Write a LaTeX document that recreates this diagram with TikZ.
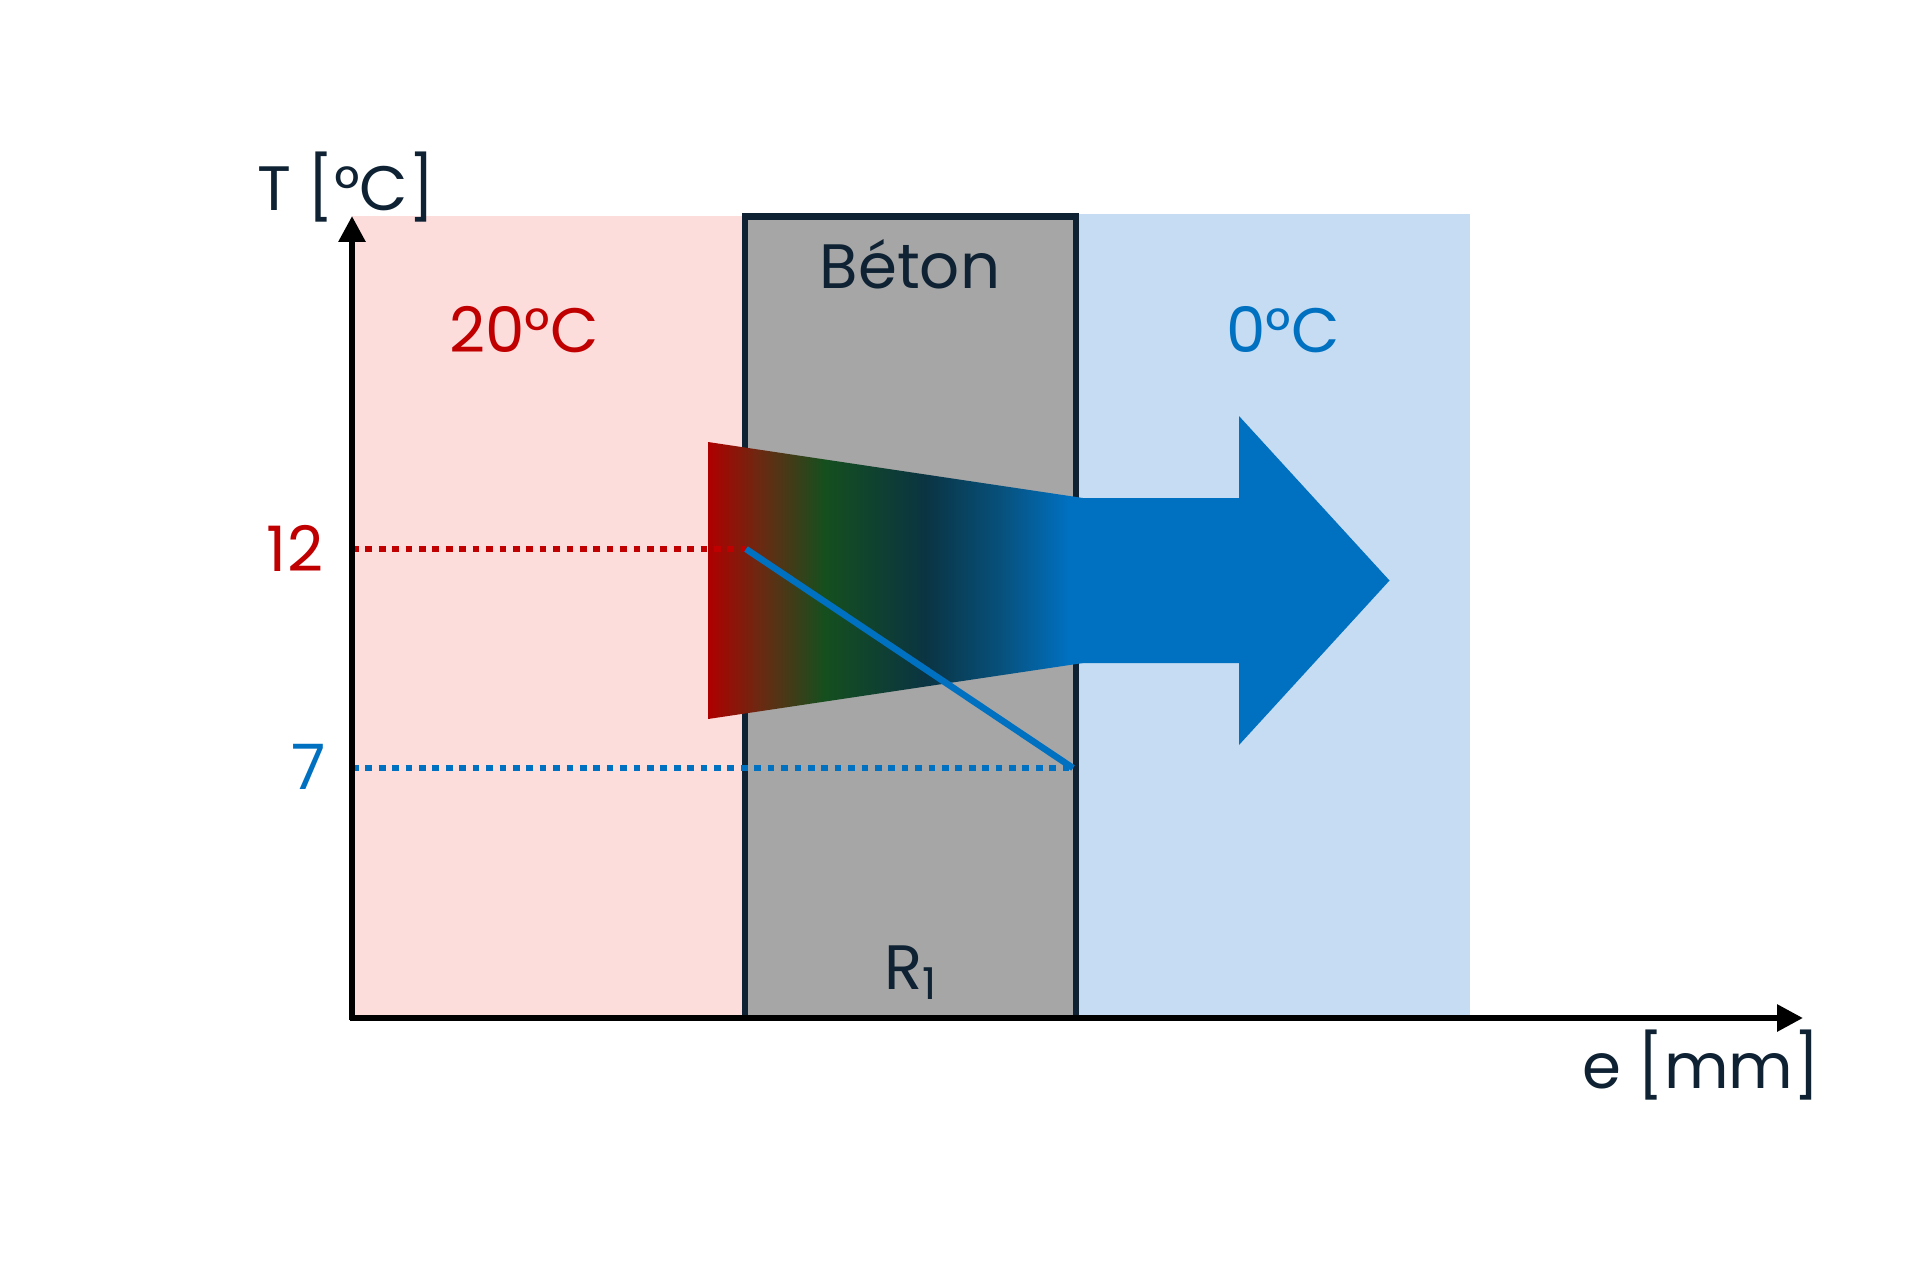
\documentclass[tikz,border=0pt]{standalone}
\usepackage{fontspec}
\setmainfont{Poppins}
\usetikzlibrary{arrows.meta}
\definecolor{pinkbg}{HTML}{FDDCDC}
\definecolor{greybg}{HTML}{A6A6A6}
\definecolor{bluebg}{HTML}{C5DCF2}
\definecolor{navy}{HTML}{0E2233}
\definecolor{hotred}{HTML}{C00000}
\definecolor{coldblue}{HTML}{0070C0}
\definecolor{heatred}{HTML}{AE0000}
\definecolor{heatbrown}{HTML}{6A2A12}
\definecolor{heatgreen}{HTML}{154F1E}
\definecolor{heatdark}{HTML}{0A3442}
\definecolor{heatmid}{HTML}{07527F}
\definecolor{heatblue}{HTML}{0070C0}
\pgfdeclarehorizontalshading{heat}{100bp}{color(0bp)=(heatred); color(25bp)=(heatred); color(32bp)=(heatbrown); color(40.5bp)=(heatgreen); color(54bp)=(heatdark); color(64.5bp)=(heatmid); color(73bp)=(heatblue); color(100bp)=(heatblue)}
\tikzset{
  lbl/.style={font=\fontsize{14.5pt}{17pt}\selectfont, inner sep=0pt, anchor=base},
  axisline/.style={line width=1.38pt, black, -{Triangle[length=6pt,width=6pt]}},
  dotline/.style={line width=1.38pt, dash pattern=on 1.55pt off 1.55pt},
}
\begin{document}
\begin{tikzpicture}[x=0.08125mm, y=-0.08125mm]
\useasboundingbox (0,0) rectangle (1920,1266);
% zones
\fill[pinkbg] (352,216) rectangle (745,1018);
\fill[bluebg] (1076,214) rectangle (1470,1018);
\draw[navy, line width=1.52pt, fill=greybg] (745,216.7) rectangle (1076,1018);
% heat flow arrow
\shade[shading=heat] (708,442) -- (1083,498) -- (1083,663) -- (708,719) -- cycle;
\fill[coldblue] (1080,498) -- (1239,498) -- (1239,416) -- (1389.5,580.5) -- (1239,745) -- (1239,663) -- (1080,663) -- cycle;
% temperature profile
\coordinate (t12) at (352,549);
\coordinate (p12) at (746,549);
\coordinate (t7) at (352,768);
\coordinate (p7) at (1073,768);
\draw[dotline, hotred] (t12) -- (p12);
\draw[dotline, coldblue] (t7) -- (p7);
\draw[coldblue, line width=1.5pt] (p12) -- (p7);
% axes
\coordinate (o) at (352,1020);
\coordinate (xo) at (350,1018);
\coordinate (ytip) at (352,216);
\coordinate (xtip) at (1803,1018);
\draw[axisline] (o) -- (ytip);
\draw[axisline] (xo) -- (xtip);
% labels
\node[lbl, navy] (ylab) at (346,210.5) {T [°C]};
\node[lbl, navy] (xlab) at (1701,1088) {e [mm]};
\node[lbl, hotred] (hot) at (524,352) {20°C};
\node[lbl, coldblue] (cold) at (1283,352) {0°C};
\node[lbl, navy] (beton) at (910,288) {Béton};
\node[lbl, navy] (r1) at (912,989.5) {R\textsubscript{1}};
\node[lbl, hotred] (v12) at (295,571) {12};
\node[lbl, coldblue] (v7) at (309,789.5) {7};
\end{tikzpicture}
\end{document}
